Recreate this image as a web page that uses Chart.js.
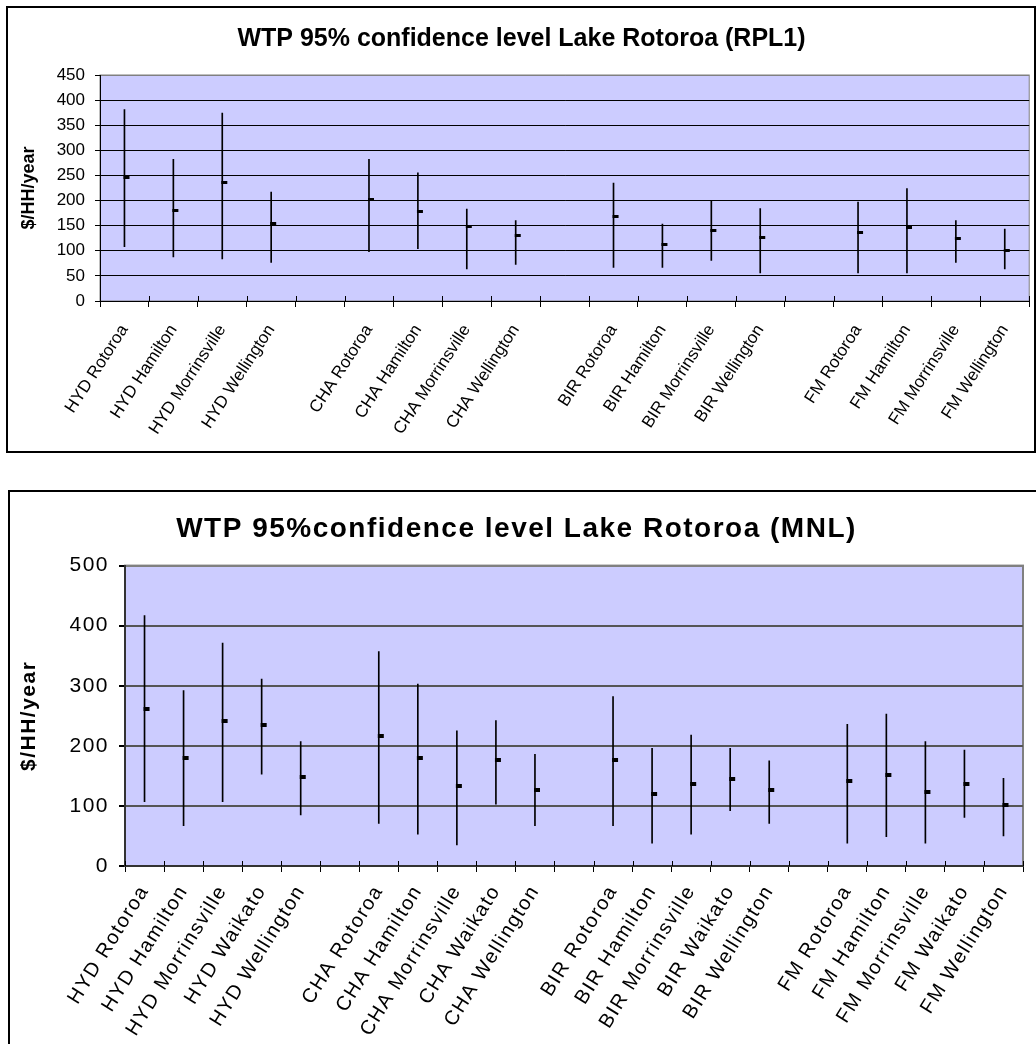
<!DOCTYPE html>
<html>
<head>
<meta charset="utf-8">
<script src="https://cdn.jsdelivr.net/npm/chart.js"></script>
<style>
body { margin: 0; background: #fff; width: 1036px; height: 1044px; position: relative; overflow: hidden; }
.frame { position: absolute; border: 2px solid #000; box-sizing: border-box; }
#f1 { left: 6px; top: 6px; width: 1030px; height: 447px; }
#f2 { left: 8px; top: 490px; width: 1040px; height: 600px; }
canvas { position: absolute; left: 0; }
#c1 { top: 0; }
#c2 { top: 480px; }
</style>
</head>
<body>
<div class="frame" id="f1"></div>
<div class="frame" id="f2"></div>
<canvas id="c1" width="1036" height="460"></canvas>
<canvas id="c2" width="1036" height="564"></canvas>
<script>
// RPL1 chart (top)
const labelsRPL = ['HYD Rotoroa', 'HYD Hamilton', 'HYD Morrinsville', 'HYD Wellington', '',
    'CHA Rotoroa', 'CHA Hamilton', 'CHA Morrinsville', 'CHA Wellington', '',
    'BIR Rotoroa', 'BIR Hamilton', 'BIR Morrinsville', 'BIR Wellington', '',
    'FM Rotoroa', 'FM Hamilton', 'FM Morrinsville', 'FM Wellington'];
const highRPL = [381, 282, 374, 217, null, 282, 255, 183, 160, null, 235, 153, 200, 184, null, 197, 224, 160, 143];
const lowRPL = [108, 88, 84, 77, null, 98, 104, 64, 73, null, 67, 67, 81, 56, null, 56, 56, 77, 64];
const closeRPL = [246, 181, 236, 154, null, 202, 178, 148, 130, null, 168, 113, 141, 127, null, 137, 147, 124, 100];

// MNL chart (bottom)
const labelsMNL = ['HYD Rotoroa', 'HYD Hamilton', 'HYD Morrinsville', 'HYD Waikato', 'HYD Wellington', '',
    'CHA Rotoroa', 'CHA Hamilton', 'CHA Morrinsville', 'CHA Waikato', 'CHA Wellington', '',
    'BIR Rotoroa', 'BIR Hamilton', 'BIR Morrinsville', 'BIR Waikato', 'BIR Wellington', '',
    'FM Rotoroa', 'FM Hamilton', 'FM Morrinsville', 'FM Waikato', 'FM Wellington'];
const highMNL = [417, 292, 371, 311, 207, null, 357, 303, 225, 242, 186, null, 282, 196, 218, 196, 175, null, 236, 253, 207, 193, 146];
const lowMNL = [107, 67, 107, 153, 85, null, 71, 53, 35, 103, 67, null, 67, 38, 53, 92, 71, null, 38, 49, 38, 81, 50];
const closeMNL = [262, 180, 241, 234, 148, null, 216, 180, 133, 177, 127, null, 177, 120, 137, 145, 127, null, 141, 152, 123, 137, 102];

const FONT = 'Liberation Sans, Arial, sans-serif';

// little dash to the right of the point, like Excel's close tick
function closeMark(w, h) {
    const c = document.createElement('canvas');
    c.width = w * 2;
    c.height = h;
    const g = c.getContext('2d');
    g.fillStyle = '#000';
    g.fillRect(w - 1, 0, w, h);
    return c;
}

// plot area fill + border, and tick marks crossing the x axis
const plotArea = {
    id: 'plotArea',
    beforeDraw(chart, args, opts) {
        const {ctx, chartArea: a} = chart;
        ctx.save();
        ctx.fillStyle = '#ccccff';
        ctx.fillRect(a.left, a.top, a.right - a.left, a.bottom - a.top);
        ctx.strokeStyle = '#808080';
        ctx.lineWidth = opts.border;
        ctx.strokeRect(a.left, a.top, a.right - a.left, a.bottom - a.top);
        ctx.restore();
        if (opts.spacing) ctx.letterSpacing = opts.spacing;
    },
    afterDraw(chart, args, opts) {
        const {ctx, chartArea: a} = chart;
        const x = chart.scales.x;
        const n = chart.data.labels.length;
        const w = x.getPixelForValue(1) - x.getPixelForValue(0);
        ctx.save();
        ctx.strokeStyle = '#000';
        ctx.lineWidth = 1;
        ctx.beginPath();
        for (let i = 0; i <= n; i++) {
            const px = Math.round(x.getPixelForValue(i) - w / 2) + 0.5;
            ctx.moveTo(px, a.bottom);
            ctx.lineTo(px, a.bottom - opts.inTick);
        }
        ctx.stroke();
        ctx.restore();
    }
};

function makeChart(el, labels, low, high, close, s) {
    const ranges = labels.map((l, i) => high[i] == null ? null : [low[i], high[i]]);
    return new Chart(document.getElementById(el), {
        type: 'bar',
        data: {
            labels: labels,
            datasets: [{
                data: ranges,
                backgroundColor: '#000',
                barThickness: 1,
                grouped: false
            }, {
                type: 'line',
                data: close,
                showLine: false,
                pointStyle: closeMark(s.markW, s.markH),
                pointRadius: 3
            }]
        },
        options: {
            responsive: false,
            animation: false,
            layout: { padding: s.pad },
            plugins: {
                legend: { display: false },
                tooltip: { enabled: false },
                title: {
                    display: true,
                    text: s.title,
                    color: '#000',
                    font: { family: FONT, size: s.titleSize, weight: 'bold' },
                    padding: s.titlePad
                },
                plotArea: { border: s.plotBorder, inTick: 5, spacing: s.spacing }
            },
            scales: {
                x: {
                    offset: true,
                    grid: { offset: true, drawOnChartArea: false, tickLength: 6, color: '#000' },
                    border: { color: s.axisCol, width: s.axisW },
                    ticks: {
                        autoSkip: false, minRotation: s.rot, maxRotation: s.rot, padding: s.xPad,
                        color: '#000', font: { family: FONT, size: s.xSize }
                    },
                    afterFit: (sc) => { sc.height = s.xH; }
                },
                y: {
                    min: 0,
                    max: s.max,
                    grid: {
                        color: (c) => c.tick && c.tick.value === s.max ? '#808080' : s.gridCol,
                        lineWidth: s.gridW,
                        tickLength: s.yTick,
                        tickColor: '#000'
                    },
                    border: { color: s.axisCol, width: s.axisW },
                    ticks: {
                        stepSize: s.step, padding: s.yPad,
                        color: '#000', font: { family: FONT, size: s.ySize }
                    },
                    title: {
                        display: true,
                        text: '$/HH/year',
                        color: '#000',
                        font: { family: FONT, size: s.yTitleSize, weight: 'bold' },
                        padding: { top: s.yTitlePad, bottom: 0 }
                    },
                    afterFit: (sc) => { sc.width = s.yW; }
                }
            }
        },
        plugins: [plotArea]
    });
}

makeChart('c1', labelsRPL, lowRPL, highRPL, closeRPL, {
    title: 'WTP 95% confidence level Lake Rotoroa (RPL1)',
    titleSize: 25, titlePad: { top: 24, bottom: 21 },
    pad: { left: 10, right: 3, top: 0, bottom: 0 },
    max: 450, step: 50, yW: 90, xH: 159,
    xSize: 17, ySize: 17, yTitleSize: 18, yTitlePad: 8,
    xPad: 14, yPad: 10, yTick: 5, rot: 57,
    gridCol: '#000', gridW: 1, axisCol: '#000', axisW: 1, plotBorder: 1,
    markW: 6, markH: 3, spacing: null
});

makeChart('c2', labelsMNL, lowMNL, highMNL, closeMNL, {
    title: 'WTP 95%confidence level Lake Rotoroa (MNL)',
    titleSize: 28, titlePad: { top: 32, bottom: 20 },
    pad: { left: 10, right: 13, top: 0, bottom: 0 },
    max: 500, step: 100, yW: 115, xH: 178,
    xSize: 20, ySize: 21, yTitleSize: 21, yTitlePad: 7,
    xPad: 9, yPad: 10, yTick: 6, rot: 58,
    gridCol: '#555', gridW: 2, axisCol: '#333', axisW: 2, plotBorder: 2,
    markW: 6, markH: 4, spacing: '1.5px'
});
</script>
</body>
</html>
